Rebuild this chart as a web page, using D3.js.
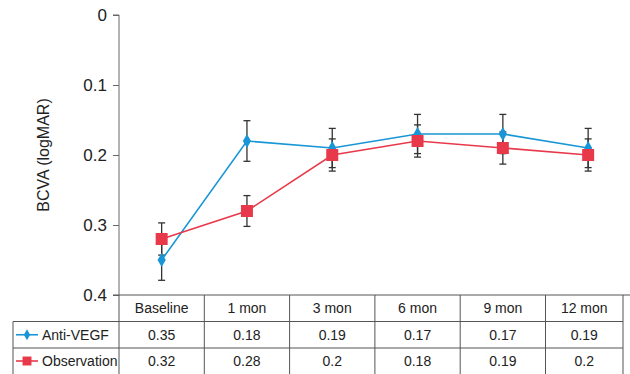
<!DOCTYPE html>
<html lang="en">
<head>
<meta charset="utf-8">
<title>BCVA over time</title>
<style>
  body { margin: 0; background: white; }
  svg { font-family: "Liberation Sans", Arial, sans-serif; }
</style>
<script src="https://d3js.org/d3.v7.min.js"></script>
</head>
<body>
<script>
let categories = ["Baseline", "1 mon", "3 mon", "6 mon", "9 mon", "12 mon"]
let antiVegf = [0.35, 0.18, 0.19, 0.17, 0.17, 0.19]
let antiVegfErr = [0.029, 0.029, 0.028, 0.028, 0.028, 0.028]
let observation = [0.32, 0.28, 0.2, 0.18, 0.19, 0.2]
let observationErr = [0.023, 0.022, 0.023, 0.023, 0.023, 0.023]
let yTicks = [0, 0.1, 0.2, 0.3, 0.4]

let width = 630
let height = 374
let plotLeft = 119
let plotTop = 15
let plotBottom = 295
let tableRight = 623
let rowY = [295, 321.5, 348, 374]
let tableLeft = 13

let svg = d3.select("body").append("svg")
  .attr("width", width)
  .attr("height", height)

let x = d3.scaleBand().domain(categories).range([plotLeft, plotLeft + 6 * 85.3])
let y = d3.scaleLinear().domain([0, 0.4]).range([plotTop, plotBottom])

// y axis
let yAxis = svg.append("g")
  .attr("transform", `translate(${plotLeft},0)`)
  .call(d3.axisLeft(y).tickValues(yTicks).tickSize(6).tickPadding(6).tickFormat(d => d3.format("")(d)))
yAxis.select(".domain").attr("stroke", "#666").attr("d", `M-6,${plotTop}H0V${plotBottom}`)
yAxis.selectAll(".tick line").attr("stroke", "#666")
yAxis.selectAll(".tick text").attr("font-size", 17).attr("fill", "#222")
  .attr("font-family", "'Liberation Sans', Arial, sans-serif")

svg.append("text")
  .attr("transform", "translate(49,155) rotate(-90)")
  .attr("text-anchor", "middle")
  .attr("font-size", 16)
  .attr("fill", "#222")
  .text("BCVA (logMAR)")

// table grid
let grid = svg.append("g").attr("stroke", "#555").attr("stroke-width", 1).attr("fill", "none")
grid.append("line").attr("x1", plotLeft - 6).attr("x2", width).attr("y1", rowY[0]).attr("y2", rowY[0])
grid.append("line").attr("x1", tableLeft).attr("x2", tableRight).attr("y1", rowY[1]).attr("y2", rowY[1])
grid.append("line").attr("x1", tableLeft).attr("x2", tableRight).attr("y1", rowY[2]).attr("y2", rowY[2])
grid.append("line").attr("x1", tableLeft).attr("x2", tableLeft).attr("y1", rowY[1]).attr("y2", height)
grid.append("line").attr("x1", plotLeft).attr("x2", plotLeft).attr("y1", rowY[0]).attr("y2", height)
categories.forEach((c, i) => {
  let xr = i === categories.length - 1 ? tableRight : x(c) + x.bandwidth()
  grid.append("line").attr("x1", xr).attr("x2", xr).attr("y1", rowY[0]).attr("y2", height)
})

// table text
let rows = [categories, antiVegf, observation]
rows.forEach((row, r) => {
  svg.append("g").selectAll("text")
    .data(row)
    .enter()
    .append("text")
    .attr("x", (d, i) => {
      let x0 = x(categories[i])
      let x1 = i === categories.length - 1 ? tableRight : x0 + x.bandwidth()
      return (x0 + x1) / 2
    })
    .attr("y", (rowY[r] + rowY[r + 1]) / 2 + 5)
    .attr("text-anchor", "middle")
    .attr("font-size", 14)
    .attr("fill", "#222")
    .text(d => d)
})

let series = [
  { name: "Anti-VEGF", values: antiVegf, err: antiVegfErr, color: "#1996d5", shape: d3.symbolDiamond, size: 58 },
  { name: "Observation", values: observation, err: observationErr, color: "#e8394b", shape: d3.symbolSquare, size: 144 }
]

// error bars
series.forEach(s => {
  let g = svg.append("g").attr("stroke", "#333").attr("stroke-width", 1.3)
  s.values.forEach((v, i) => {
    let cx = x(categories[i]) + x.bandwidth() / 2
    g.append("line").attr("x1", cx).attr("x2", cx).attr("y1", y(v - s.err[i])).attr("y2", y(v + s.err[i]))
    g.append("line").attr("x1", cx - 3.5).attr("x2", cx + 3.5).attr("y1", y(v - s.err[i])).attr("y2", y(v - s.err[i]))
    g.append("line").attr("x1", cx - 3.5).attr("x2", cx + 3.5).attr("y1", y(v + s.err[i])).attr("y2", y(v + s.err[i]))
  })
})

// lines and markers
let line = d3.line()
  .x((d, i) => x(categories[i]) + x.bandwidth() / 2)
  .y(d => y(d))

series.forEach(s => {
  svg.append("path")
    .datum(s.values)
    .attr("d", line)
    .attr("fill", "none")
    .attr("stroke", s.color)
    .attr("stroke-width", 1.6)
  svg.append("g").selectAll("path")
    .data(s.values)
    .enter()
    .append("path")
    .attr("d", d3.symbol().type(s.shape).size(s.size))
    .attr("transform", (d, i) => `translate(${x(categories[i]) + x.bandwidth() / 2},${y(d)})`)
    .attr("fill", s.color)
})

// legend in table
series.forEach((s, r) => {
  let cy = (rowY[r + 1] + rowY[r + 2]) / 2
  svg.append("line").attr("x1", 16).attr("x2", 38).attr("y1", cy).attr("y2", cy)
    .attr("stroke", s.color).attr("stroke-width", 1.6)
  svg.append("path")
    .attr("d", d3.symbol().type(s.shape).size(r === 0 ? 34 : 80))
    .attr("transform", `translate(27,${cy})`)
    .attr("fill", s.color)
  svg.append("text")
    .attr("x", 42)
    .attr("y", cy + 5)
    .attr("font-size", 14)
    .attr("fill", "#222")
    .text(s.name)
})
</script>
</body>
</html>
